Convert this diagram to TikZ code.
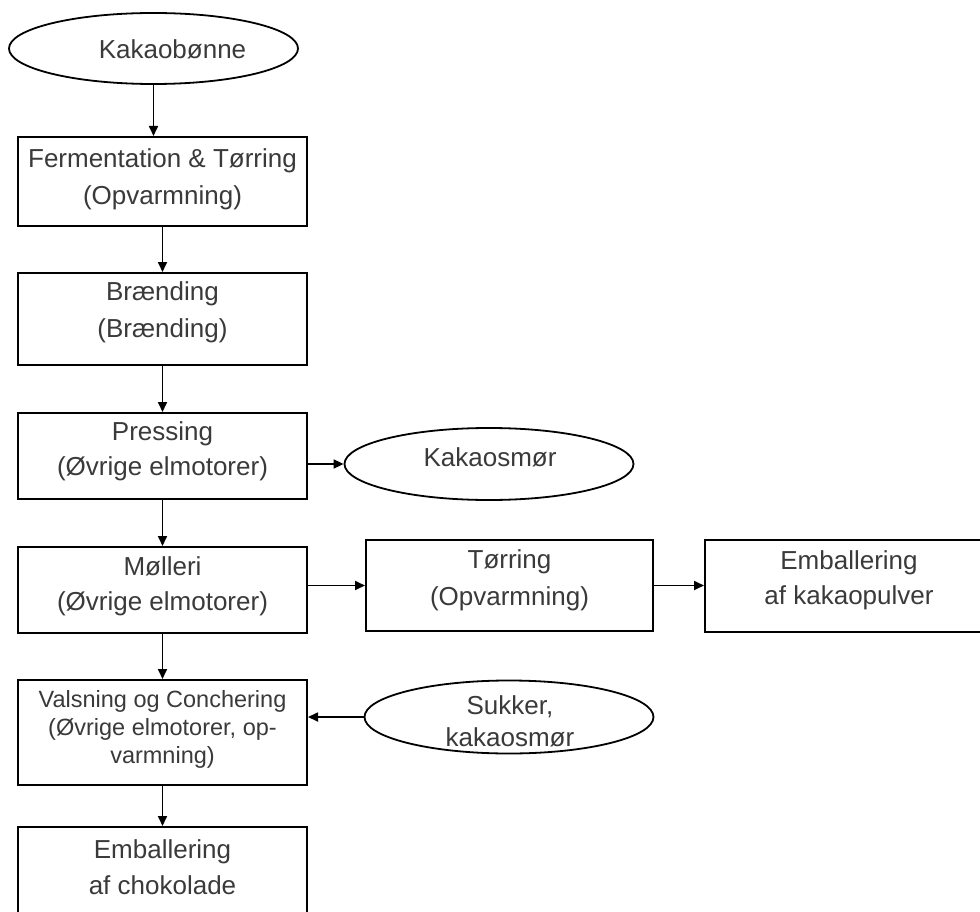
\documentclass[tikz,border=0pt]{standalone}
\usepackage{fontspec}
\setmainfont{Liberation Sans}
\usetikzlibrary{shapes.geometric,arrows.meta}
\definecolor{ink}{HTML}{3A3A3A}
\begin{document}
\begin{tikzpicture}[x=1pt,y=-1pt,
  stage/.style={draw=black,line width=2pt,rectangle,minimum width=289pt,inner sep=0pt},
  product/.style={draw=black,line width=1.8pt,ellipse,minimum width=289pt,minimum height=72pt,inner sep=0pt},
  lbl/.style={text=ink,align=center,inner sep=0pt,font=\fontsize{26}{37}\selectfont},
  small/.style={text=ink,align=center,inner sep=0pt,font=\fontsize{23.5}{28}\selectfont},
  flow/.style={line width=1.7pt,-{Triangle[length=10pt,width=9pt]}}]
\useasboundingbox (0,0) rectangle (980,912);
\clip (0,0) rectangle (980,912);
\fill[white] (0,0) rectangle (980,912);

% main process column
\node[product,minimum height=71pt] (bean) at (153.5,48.5) {};
\node[stage,minimum height=89pt] (ferm) at (162.5,181.5) {};
\node[stage,minimum height=92pt] (roast) at (162.5,319) {};
\node[stage,minimum height=86pt] (press) at (162.5,456) {};
\node[stage,minimum height=86pt] (mill) at (162.5,590) {};
\node[stage,minimum height=105pt] (conch) at (162.5,732.5) {};
\node[stage,minimum height=89pt] (packc) at (162.5,871.5) {};

% side branches
\node[product] (butter) at (489,464) {};
\node[stage,minimum width=287pt,minimum height=91pt] (dry) at (509.5,585.5) {};
\node[stage,minimum width=288pt,minimum height=92pt] (packp) at (849,586) {};
\node[product,minimum height=73pt] (sugar) at (509,717) {};

% texts
\node[lbl] at (172.5,49) {Kakaobønne};
\node[lbl] at (162.5,179) {Fermentation \& Tørring\\(Opvarmning)};
\node[lbl] at (162.5,312.5) {Brænding\\(Brænding)};
\node[lbl,font=\fontsize{26}{35}\selectfont] at (162.5,451.5) {Pressing\\(Øvrige elmotorer)};
\node[lbl,font=\fontsize{26}{35}\selectfont] at (162.5,586.5) {Mølleri\\(Øvrige elmotorer)};
\node[small] at (162.5,729) {Valsning og Conchering\\(Øvrige elmotorer, op-\\varmning)};
\node[lbl,font=\fontsize{26}{36}\selectfont] at (162.5,867) {Emballering\\af chokolade};
\node[lbl] at (490,457) {Kakaosmør};
\node[lbl] at (509.5,580.5) {Tørring\\(Opvarmning)};
\node[lbl,font=\fontsize{26}{35}\selectfont] at (849,580.5) {Emballering\\af kakaopulver};
\node[lbl,font=\fontsize{26}{32}\selectfont] at (510,721) {Sukker,\\kakaosmør};

% connectors
\draw[flow] (bean.south) -- (bean.south |- ferm.north);
\draw[flow] (ferm.south) -- (roast.north);
\draw[flow] (roast.south) -- (press.north);
\draw[flow] (press.south) -- (mill.north);
\draw[flow] (mill.south) -- (conch.north);
\draw[flow] (conch.south) -- (packc.north);
\draw[flow] (butter.west -| press.east) -- (butter.west);
\draw[flow] (dry.west -| mill.east) -- (dry.west);
\draw[flow] (dry.east) -- (dry.east -| packp.west);
\draw[flow] (sugar.west) -- (sugar.west -| conch.east);
\end{tikzpicture}
\end{document}
